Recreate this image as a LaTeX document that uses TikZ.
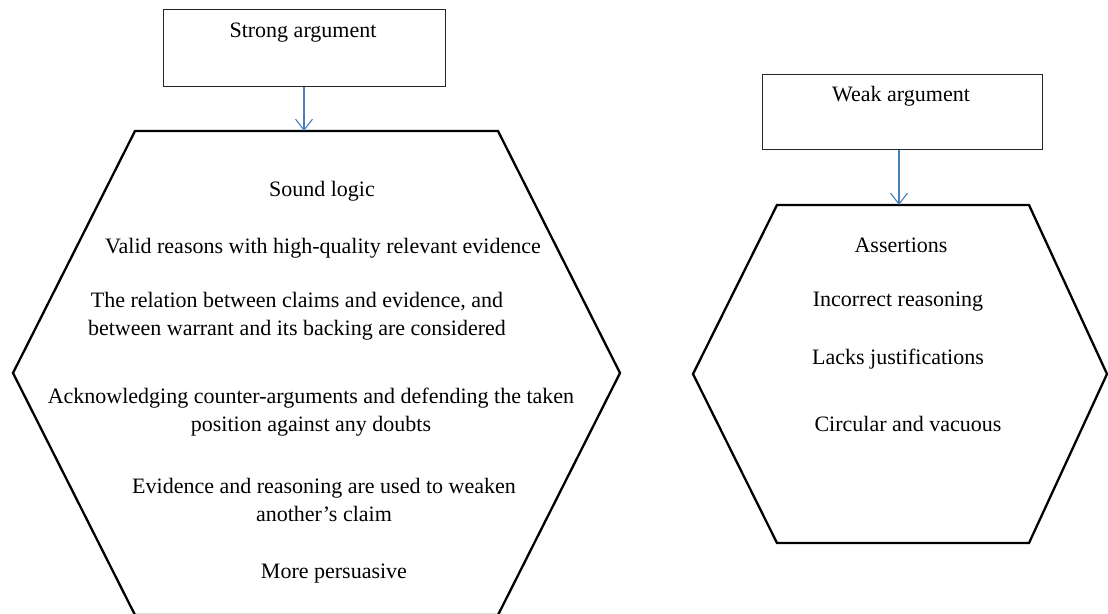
\documentclass[tikz,border=0pt]{standalone}
\usepackage{fontspec}
\setmainfont{Liberation Serif}
\usetikzlibrary{arrows.meta}
\definecolor{arrowblue}{HTML}{4A7EBB}
\tikzset{
  box/.style={draw=black!85, line width=1pt, minimum width=282pt, minimum height=77pt, inner sep=0pt},
  hexline/.style={draw=black, line width=2.3pt, line join=miter},
  txt/.style={font=\fontsize{22}{28}\selectfont, align=center, inner sep=0pt},
  link/.style={draw=arrowblue, line width=1.1pt, -{Straight Barb[length=11pt,width=17pt,line width=1.1pt]}}
}
\begin{document}
\begin{tikzpicture}[x=1pt,y=-1pt]
\useasboundingbox (0,0) rectangle (1108,613);
\clip (0,0) rectangle (1108,613);

% ---- strong argument ----
\node[box] (strong) at (304,47.5) {};
\node[txt] (strongT) at (303,33) {Strong argument};
\draw[hexline] (135,131) -- (498,131) -- (620,373) -- (498,615) -- (135,615) -- (13,373) -- cycle;
\coordinate (sTop) at (304,131);
\draw[link] (strong.south) -- (sTop);

\node[txt] (s1) at (322,191) {Sound logic};
\node[txt] (s2) at (323,248) {Valid reasons with high-quality relevant evidence};
\node[txt] (s3) at (297,316) {The relation between claims and evidence, and\\between warrant and its backing are considered};
\node[txt] (s4) at (311,412) {Acknowledging counter-arguments and defending the taken\\position against any doubts};
\node[txt] (s5) at (324,500) {Evidence and reasoning are used to weaken\\another’s claim};
\node[txt] (s6) at (334,574) {More persuasive};

% ---- weak argument ----
\node[box, minimum width=280pt, minimum height=75pt] (weak) at (902,111.5) {};
\node[txt] (weakT) at (901,96) {Weak argument};
\draw[hexline] (777,205) -- (1029,205) -- (1107,374) -- (1029,543) -- (777,543) -- (693,374) -- cycle;
\coordinate (wTop) at (899,205);
\draw[link] (weak.south -| wTop) -- (wTop);

\node[txt] (w1) at (901,245) {Assertions};
\node[txt] (w2) at (898,302) {Incorrect reasoning};
\node[txt] (w3) at (898,359) {Lacks justifications};
\node[txt] (w4) at (908,424) {Circular and vacuous};
\end{tikzpicture}
\end{document}
